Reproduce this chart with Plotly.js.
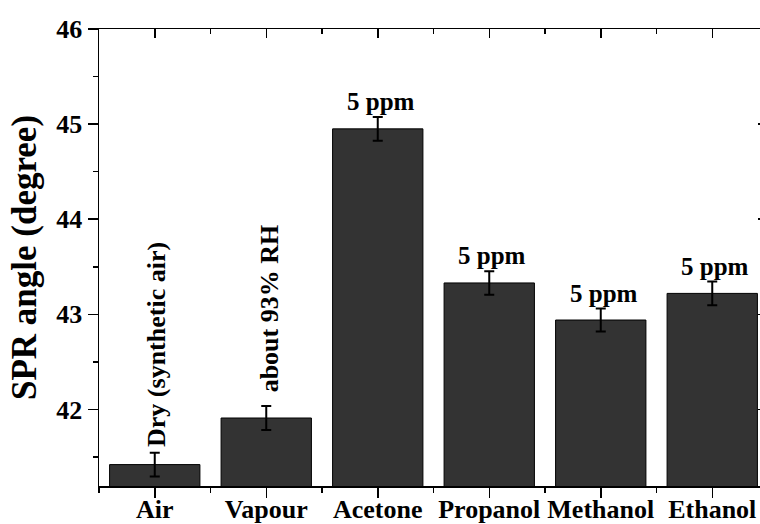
<!DOCTYPE html>
<html>
<head>
<meta charset="utf-8">
<script src="https://cdn.plot.ly/plotly-3.0.1.min.js"></script>
<style>
  html, body { margin: 0; padding: 0; overflow: hidden; background: #fff; }
  #chart { width: 768px; height: 524px; }
</style>
</head>
<body>
<div id="chart"></div>
<script>
// ---- data ----
const categories = ['Air', 'Vapour', 'Acetone', 'Propanol', 'Methanol', 'Ethanol'];
const sprAngle   = [41.42, 41.91, 44.95, 43.33, 42.94, 43.22];
const sprError   = [0.125, 0.125, 0.125, 0.124, 0.12, 0.125];
const barNotes   = ['Dry (synthetic air)', 'about 93% RH', '5 ppm', '5 ppm', '5 ppm', '5 ppm'];
const yTickVals  = [42, 43, 44, 45, 46];
const yMinorVals = [41.5, 42.5, 43.5, 44.5, 45.5];
const yAxisTitle = 'SPR angle (degree)';

// ---- styling ----
const serifBold = { family: 'Liberation Serif', weight: 'bold', color: '#000' };
const yRange = [41.195, 46];
const xRange = [-0.5, categories.length - 0.5];
const centers = categories.map((c, i) => i);
const bounds = categories.map((c, i) => i - 0.5).concat([categories.length - 0.5]);

const barTrace = {
  type: 'bar',
  x: categories,
  y: sprAngle,
  marker: { color: '#333333', line: { color: '#000', width: 1 } },
  error_y: { type: 'data', array: sprError, visible: true, color: '#000', thickness: 2, width: 5 },
  hoverinfo: 'skip'
};

const annotations = barNotes.map((t, i) => {
  const rotated = t !== '5 ppm';
  return {
    x: categories[i], xref: 'x',
    y: sprAngle[i] + sprError[i], yref: 'y',
    text: t,
    showarrow: false,
    textangle: rotated ? -90 : 0,
    xanchor: 'center', yanchor: 'bottom',
    yshift: rotated ? (i === 0 ? 4 : 12) : 0,
    xshift: rotated ? (i === 0 ? 1 : 3) : 3,
    font: Object.assign({ size: rotated ? 26 : 25 }, serifBold)
  };
});

const tickStyle = { tickwidth: 1.5, tickcolor: '#000' };

const layout = {
  width: 768, height: 524,
  margin: { l: 99, r: 0, t: 29, b: 38 },
  paper_bgcolor: '#fff', plot_bgcolor: '#fff',
  showlegend: false,
  bargap: 0.19,
  xaxis: Object.assign({
    type: 'category', range: xRange,
    showline: true, linecolor: '#000', linewidth: 1.5,
    ticks: 'outside', ticklen: 10,
    ticklabelstandoff: -11,
    tickfont: Object.assign({ size: 26 }, serifBold),
    showgrid: false, zeroline: false, fixedrange: true
  }, tickStyle),
  xaxis2: Object.assign({
    overlaying: 'x', anchor: 'y', side: 'bottom', type: 'linear', range: xRange,
    tickmode: 'array', tickvals: bounds, ticks: 'outside', ticklen: 6,
    showticklabels: false, showgrid: false, zeroline: false, showline: false
  }, tickStyle),
  xaxis3: Object.assign({
    overlaying: 'x', anchor: 'y', side: 'top', type: 'linear', range: xRange,
    tickmode: 'array', tickvals: centers, ticks: 'inside', ticklen: 9,
    minor: Object.assign({ tickmode: 'array', tickvals: bounds, ticks: 'inside', ticklen: 5 }, tickStyle),
    showticklabels: false, showgrid: false, zeroline: false,
    showline: true, linecolor: '#000', linewidth: 1.5
  }, tickStyle),
  yaxis: Object.assign({
    range: yRange,
    tickmode: 'array', tickvals: yTickVals,
    showline: true, linecolor: '#000', linewidth: 1.5,
    ticks: 'outside', ticklen: 10,
    minor: Object.assign({ tickmode: 'array', tickvals: yMinorVals, ticks: 'outside', ticklen: 5 }, tickStyle),
    tickfont: Object.assign({ size: 26 }, serifBold),
    title: { text: yAxisTitle, font: Object.assign({ size: 35 }, serifBold), standoff: 9 },
    showgrid: false, zeroline: false, fixedrange: true
  }, tickStyle),
  yaxis2: Object.assign({
    overlaying: 'y', anchor: 'x', side: 'right', range: yRange,
    tickmode: 'array', tickvals: yTickVals, ticks: 'inside', ticklen: 10,
    minor: Object.assign({ tickmode: 'array', tickvals: yMinorVals, ticks: 'inside', ticklen: 5 }, tickStyle),
    showticklabels: false, showgrid: false, zeroline: false,
    showline: true, linecolor: '#000', linewidth: 1.5
  }, tickStyle),
  annotations: annotations
};

const helper2 = { type: 'scatter', x: [], y: [], xaxis: 'x2', yaxis: 'y', hoverinfo: 'skip' };
const helper3 = { type: 'scatter', x: [], y: [], xaxis: 'x3', yaxis: 'y2', hoverinfo: 'skip' };

Plotly.newPlot('chart', [barTrace, helper2, helper3], layout, { staticPlot: true, displayModeBar: false });
</script>
</body>
</html>
